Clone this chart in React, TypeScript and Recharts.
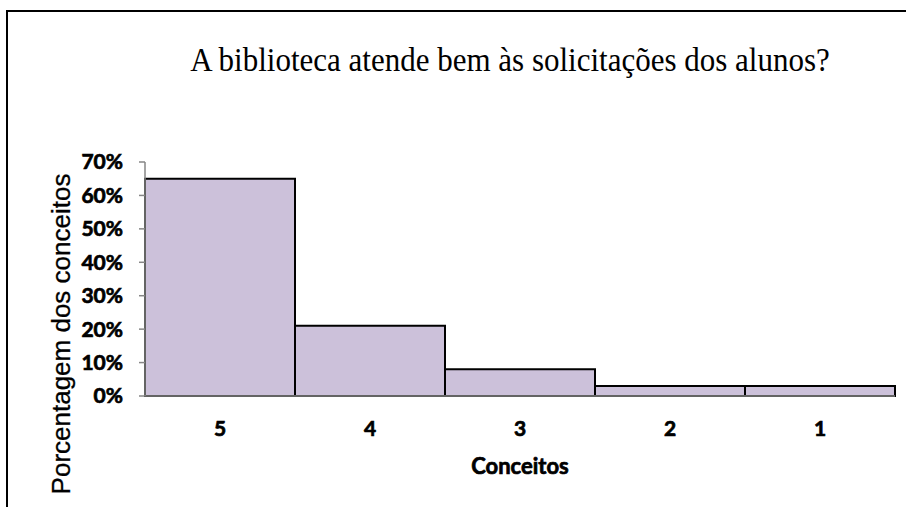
import { BarChart, Bar, XAxis, YAxis } from "recharts";

const conceitos = ["5", "4", "3", "2", "1"];
const porcentagens = [0.65, 0.21, 0.08, 0.03, 0.03];
const yTicks = [0, 0.1, 0.2, 0.3, 0.4, 0.5, 0.6, 0.7];

const data = conceitos.map((c, i) => ({ conceito: c, valor: porcentagens[i] }));

const BAR_FILL = "#ccc1da";
const AXIS_GRAY = "#868686";
const TICK_FONT = "Lato, Calibri, sans-serif";

// heavier, Calibri-bold look
const tickStyle = {
  fontSize: 21,
  fontWeight: 700,
  fontFamily: TICK_FONT,
  fill: "#000",
  stroke: "#000",
  strokeWidth: 0.7,
};

export default function App() {
  return (
    <div
      style={{
        position: "absolute",
        left: 0,
        top: 0,
        width: 906,
        height: 507,
        background: "#fff",
        overflow: "hidden",
      }}
    >
      <div
        style={{
          position: "absolute",
          left: 6,
          top: 10,
          width: 940,
          height: 540,
          border: "2px solid #000",
        }}
      />
      <div
        style={{
          position: "absolute",
          left: 0,
          top: 42,
          width: 1020,
          textAlign: "center",
          fontFamily: "'Liberation Serif', 'Times New Roman', serif",
          fontSize: 31,
          color: "#000",
          whiteSpace: "nowrap",
          transform: "scaleY(1.1)",
        }}
      >
        A biblioteca atende bem às solicitações dos alunos?
      </div>
      <div style={{ position: "absolute", left: 0, top: 0 }}>
        <BarChart
          width={906}
          height={507}
          data={data}
          barCategoryGap={0}
          margin={{ top: 162, right: 11, bottom: 81, left: 65 }}
        >
          <XAxis
            dataKey="conceito"
            height={30}
            axisLine={{ stroke: AXIS_GRAY, strokeWidth: 1.5 }}
            tickLine={false}
            tickSize={0}
            tickMargin={25}
            tick={tickStyle}
            label={{
              content: () => (
                <text
                  x={520}
                  y={474}
                  textAnchor="middle"
                  fontSize={22}
                  fontWeight={700}
                  fontFamily={TICK_FONT}
                  fill="#000"
                  stroke="#000"
                  strokeWidth={0.7}
                >
                  Conceitos
                </text>
              ),
            }}
          />
          <YAxis
            width={80}
            domain={[0, 0.7]}
            ticks={yTicks}
            interval={0}
            axisLine={{ stroke: AXIS_GRAY, strokeWidth: 1.5 }}
            tickLine={{ stroke: AXIS_GRAY, strokeWidth: 1.5 }}
            tickSize={6}
            tickMargin={16}
            tickFormatter={(v: number) => `${Math.round(v * 100)}%`}
            tick={tickStyle}
            label={{
              content: () => (
                <text
                  x={70}
                  y={334}
                  transform="rotate(-90 70 334)"
                  textAnchor="middle"
                  fontSize={26}
                  fontFamily="'Liberation Sans', Arial, sans-serif"
                  fill="#000"
                  stroke="#000"
                  strokeWidth={0.3}
                >
                  Porcentagem dos conceitos
                </text>
              ),
            }}
          />
          <Bar
            dataKey="valor"
            fill={BAR_FILL}
            stroke="#000"
            strokeWidth={2}
            isAnimationActive={false}
          />
        </BarChart>
      </div>
    </div>
  );
}
